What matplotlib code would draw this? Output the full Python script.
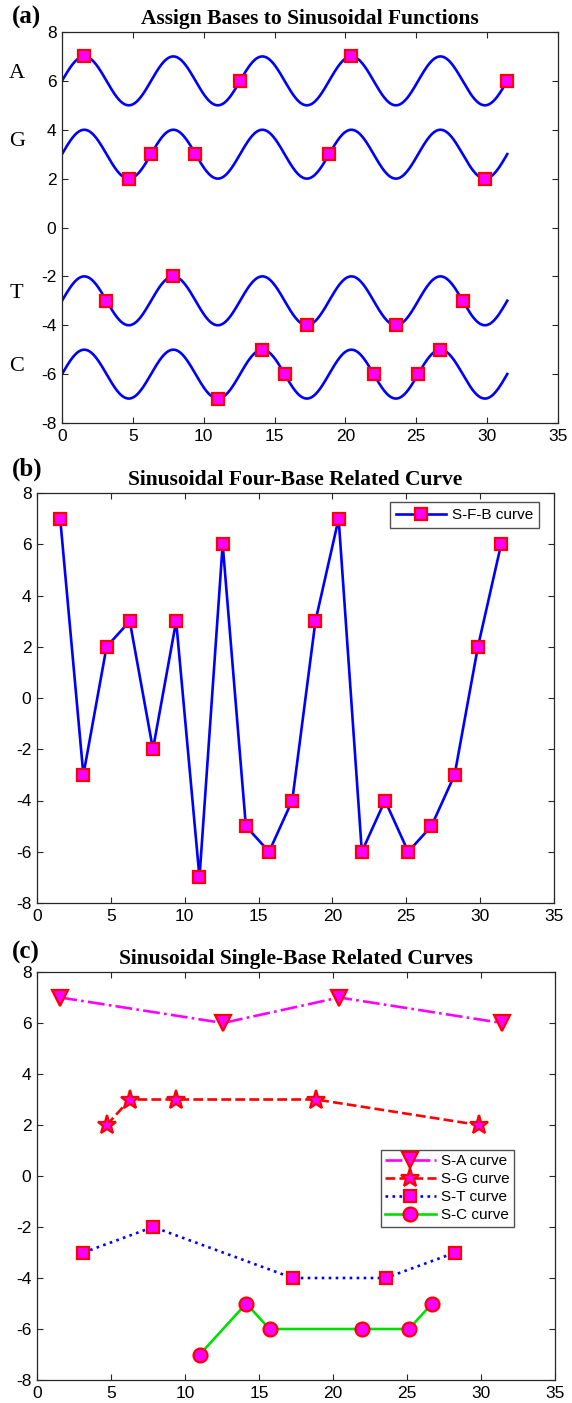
import numpy as np
import matplotlib
matplotlib.use("Agg")
from matplotlib import pyplot as plt

# positions of the bases along x (k * pi/2) and the value each base takes
x_pos = [1.57, 3.14, 4.71, 6.28, 7.85, 9.42, 11.0, 12.57, 14.14, 15.71,
         17.28, 18.85, 20.42, 21.99, 23.56, 25.13, 26.70, 28.27, 29.85, 31.42]
y_val = [7, -3, 2, 3, -2, 3, -7, 6, -5, -6, -4, 3, 7, -6, -4, -6, -5, -3, 2, 6]
bases = list("ATGGTGCACCTGACTCCTGA")

# one sinusoid per base, shifted by these offsets
base_names = ["A", "G", "T", "C"]
base_offsets = [6, 3, -3, -6]
label_y = [6.3, 3.5, -2.7, -5.7]

x_ticks = [0, 5, 10, 15, 20, 25, 30, 35]
y_ticks = [-8, -6, -4, -2, 0, 2, 4, 6, 8]

plt.rcParams["font.family"] = ["Liberation Sans", "DejaVu Sans"]
plt.rcParams["axes.unicode_minus"] = False
plt.rcParams["xtick.direction"] = "in"
plt.rcParams["ytick.direction"] = "in"
plt.rcParams["xtick.top"] = True
plt.rcParams["ytick.right"] = True

W, H = 572, 1403
fig = plt.figure(figsize=(W / 100, H / 100), dpi=100)

def px_axes(left, top, right, bottom):
    return fig.add_axes([left / W, 1 - bottom / H, (right - left) / W, (bottom - top) / H])

def style(ax, title):
    ax.set_xlim(0, 35)
    ax.set_ylim(-8, 8)
    ax.set_xticks(x_ticks)
    ax.set_yticks(y_ticks)
    ax.tick_params(labelsize=12.5, length=4, width=0.8, colors="#262626", labelcolor="black", pad=4)
    for s in ax.spines.values():
        s.set_color("#262626")
        s.set_linewidth(0.9)
    ax.set_title(title, fontfamily="Liberation Serif", fontweight="bold", fontsize=15.5, pad=6)

mk = dict(marker="s", markersize=8, markerfacecolor="magenta", markeredgecolor="red", markeredgewidth=1.6)

# (a)
ax1 = px_axes(62, 32, 558, 423)
t = np.linspace(0, 31.42, 600)
for name, off, ly in zip(base_names, base_offsets, label_y):
    ax1.plot(t, off + np.sin(t), color="blue", lw=1.9)
    ax1.text(-3.2, ly, name, fontfamily="Liberation Serif", fontsize=16, ha="center", va="center", clip_on=False)
ax1.plot(x_pos, y_val, linestyle="none", **mk)
style(ax1, "Assign Bases to Sinusoidal Functions")

# (b)
ax2 = px_axes(37, 493, 554, 903)
ax2.plot(x_pos, y_val, color="blue", lw=1.9, label="S-F-B curve", **mk)
style(ax2, "Sinusoidal Four-Base Related Curve")
ax2.legend(loc="upper right", bbox_to_anchor=(0.971, 0.978), borderaxespad=0, fancybox=False,
           edgecolor="#262626", fontsize=11, handlelength=3.3, handletextpad=0.35, borderpad=0.4)

# (c)
ax3 = px_axes(37, 972, 555, 1380)
series_style = {
    "A": dict(color="magenta", linestyle="-.", marker="v", markersize=11, label="S-A curve"),
    "G": dict(color="red", linestyle="--", marker="*", markersize=14, label="S-G curve"),
    "T": dict(color="blue", linestyle=":", marker="s", markersize=8, label="S-T curve"),
    "C": dict(color="#00e000", linestyle="-", marker="o", markersize=10, label="S-C curve"),
}
for name in base_names:
    xs = [x for x, b in zip(x_pos, bases) if b == name]
    ys = [y for y, b in zip(y_val, bases) if b == name]
    ax3.plot(xs, ys, lw=1.9, markerfacecolor="magenta", markeredgecolor="red",
             markeredgewidth=1.6, **series_style[name])
style(ax3, "Sinusoidal Single-Base Related Curves")
ax3.legend(loc="upper right", bbox_to_anchor=(0.921, 0.564), borderaxespad=0, fancybox=False,
           edgecolor="#262626", fontsize=11, handlelength=3.3, handletextpad=0.35,
           borderpad=0.3, labelspacing=0.25)

for lab, yc in zip(["(a)", "(b)", "(c)"], [17, 469, 952]):
    fig.text(12 / W, 1 - yc / H, lab, fontfamily="Liberation Serif", fontweight="bold",
             fontsize=18, ha="left", va="center")

fig.savefig("out.png", dpi=100)
